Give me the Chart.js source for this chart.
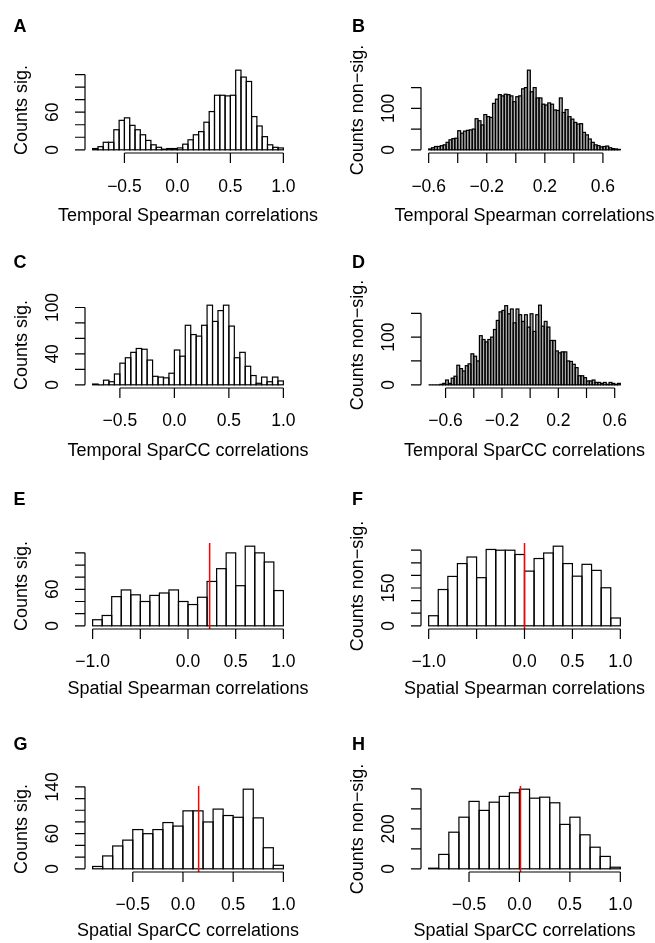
<!DOCTYPE html>
<html>
<head>
<meta charset="utf-8">
<script src="https://cdn.jsdelivr.net/npm/chart.js@4.4.0/dist/chart.umd.min.js"></script>
<style>
body { margin: 0; background: #fff; }
#fig { position: relative; width: 655px; height: 943px; font-family: "Liberation Sans", Arial, sans-serif; color: #000; }
#fig canvas { position: absolute; }
.txt { position: absolute; white-space: nowrap; line-height: 1; font-size: 18px; transform: translate(-50%, -50%); }
.ylab { transform: translate(-50%, -50%) rotate(-90deg); }
.letter { position: absolute; font-weight: bold; font-size: 18px; line-height: 1; }
</style>
</head>
<body>
<div id="fig"></div>
<script>
// panel texts
const panelLetters = ['A', 'B', 'C', 'D', 'E', 'F', 'G', 'H']
const xTitles = [
    'Temporal Spearman correlations', 'Temporal Spearman correlations',
    'Temporal SparCC correlations', 'Temporal SparCC correlations',
    'Spatial Spearman correlations', 'Spatial Spearman correlations',
    'Spatial SparCC correlations', 'Spatial SparCC correlations'
]
const yTitles = ['Counts sig.', 'Counts non\u2212sig.', 'Counts sig.', 'Counts non\u2212sig.',
    'Counts sig.', 'Counts non\u2212sig.', 'Counts sig.', 'Counts non\u2212sig.']

// histogram breaks: first break and bin width
const binStart = [-0.8, -0.6, -0.75, -0.72, -1.0, -1.0, -0.9, -0.9]
const binWidth = [0.05, 0.02, 0.05, 0.02, 0.1, 0.1, 0.1, 0.1]

// counts per bin
const countsA = [2, 5, 12, 12, 32, 47, 51, 39, 32, 24, 15, 8, 4, 1, 2, 2, 3, 9, 16, 24, 29, 44, 61, 87, 87, 86, 87, 127, 116, 109, 53, 38, 21, 8, 4, 3]
const countsB = [2, 5, 8, 8, 10, 12, 18, 24, 27, 28, 46, 40, 45, 47, 48, 50, 75, 70, 60, 85, 80, 78, 112, 122, 133, 130, 134, 133, 130, 116, 128, 130, 147, 150, 192, 140, 150, 125, 125, 110, 108, 113, 110, 96, 95, 125, 90, 97, 80, 74, 66, 62, 63, 42, 36, 26, 18, 12, 10, 7, 8, 9, 5, 3, 2, 1]
const countsC = [1, 0, 6, 4, 14, 28, 35, 42, 47, 46, 32, 11, 10, 9, 15, 45, 37, 77, 65, 63, 77, 103, 82, 96, 103, 76, 35, 42, 24, 12, 2, 10, 4, 10, 5]
const countsD = [0, 0, 0, 0, 1, 3, 10, 3, 14, 18, 41, 34, 29, 40, 44, 65, 60, 50, 103, 95, 90, 95, 100, 116, 135, 153, 156, 166, 149, 159, 130, 159, 147, 133, 147, 121, 149, 112, 147, 167, 123, 133, 121, 93, 93, 71, 67, 69, 69, 50, 49, 43, 36, 19, 19, 15, 8, 8, 10, 5, 5, 3, 5, 1, 5, 3, 1, 3]
const countsE = [10, 17, 48, 59, 51, 40, 50, 54, 59, 40, 35, 47, 73, 94, 120, 66, 131, 120, 105, 58]
const countsF = [40, 144, 196, 247, 273, 191, 303, 300, 300, 283, 217, 267, 289, 316, 247, 197, 244, 220, 151, 31]
const countsG = [4, 22, 39, 49, 67, 60, 67, 79, 73, 99, 99, 80, 102, 91, 88, 136, 87, 36, 6]
const countsH = [3, 72, 183, 258, 337, 292, 333, 362, 380, 398, 353, 358, 330, 222, 258, 170, 108, 62, 8]
const allCounts = [countsA, countsB, countsC, countsD, countsE, countsF, countsG, countsH]

// axis ticks and the labels R kept
const yTicks = [
    [0, 20, 40, 60, 80, 100, 120], [0, 50, 100, 150],
    [0, 20, 40, 60, 80, 100], [0, 50, 100, 150],
    [0, 20, 40, 60, 80, 100, 120], [0, 50, 100, 150, 200, 250, 300],
    [0, 20, 40, 60, 80, 100, 120, 140], [0, 100, 200, 300, 400]
]
const yLabels = [[0, 60], [0, 100], [0, 40, 100], [0, 100], [0, 60], [0, 150], [0, 60, 140], [0, 200]]
const xTicks = [
    [-0.5, 0, 0.5, 1], [-0.6, -0.4, -0.2, 0, 0.2, 0.4, 0.6],
    [-0.5, 0, 0.5, 1], [-0.6, -0.4, -0.2, 0, 0.2, 0.4, 0.6],
    [-1, -0.5, 0, 0.5, 1], [-1, -0.5, 0, 0.5, 1],
    [-0.5, 0, 0.5, 1], [-0.5, 0, 0.5, 1]
]
const xLabels = [
    [-0.5, 0, 0.5, 1], [-0.6, -0.2, 0.2, 0.6],
    [-0.5, 0, 0.5, 1], [-0.6, -0.2, 0.2, 0.6],
    [-1, 0, 0.5, 1], [-1, 0, 0.5, 1],
    [-0.5, 0, 0.5, 1], [-0.5, 0, 0.5, 1]
]
// red vertical lines (E-H)
const redLine = [null, null, null, null, 0.227, 0.0, 0.156, 0.01]
// the narrow-bin panels look grey in the figure
const barFill = ['#ffffff', '#aaaaaa', '#ffffff', '#aaaaaa', '#ffffff', '#ffffff', '#ffffff', '#ffffff']

// page layout
const colLeft = [85, 421]
const colWidth = [206, 207]
const rowTop = [66.5, 302, 542.5, 786]
const plotH = 86.5
const tickLabelGap = [34, 33, 33, 33]
const titleGap = [62, 61, 59, 57]
const letterX = [13.5, 352]
const letterBase = [32, 268.5, 505, 750.5]

const fig = document.getElementById('fig')
const FONT = '17.5px "Liberation Sans", Arial, sans-serif'

function fmtX(v) {
    return v.toFixed(1).replace('-', '\u2212')
}

function addText(cls, text, left, top) {
    let d = document.createElement('div')
    d.className = cls
    d.textContent = text
    d.style.left = left + 'px'
    d.style.top = top + 'px'
    fig.appendChild(d)
}

function makeAxes(i, gap) {
    return {
        id: 'rAxes' + i,
        afterDatasetsDraw(chart) {
            const ctx = chart.ctx
            const area = chart.chartArea
            const xs = chart.scales.x
            const ys = chart.scales.y
            ctx.save()
            ctx.strokeStyle = '#000'
            ctx.lineWidth = 1.2

            // bar outlines, drawn on the edges like rect() in R
            chart.getDatasetMeta(0).data.forEach(bar => {
                const p = bar.getProps(['x', 'y', 'base', 'width'], true)
                ctx.strokeRect(p.x - p.width / 2, p.y, p.width, p.base - p.y)
            })

            // red line
            if (redLine[i] !== null) {
                const rx = xs.getPixelForValue(redLine[i])
                ctx.strokeStyle = '#ff0000'
                ctx.lineWidth = 1.5
                ctx.beginPath()
                ctx.moveTo(rx, area.top)
                ctx.lineTo(rx, area.bottom)
                ctx.stroke()
                ctx.strokeStyle = '#000'
                ctx.lineWidth = 1.2
            }

            ctx.fillStyle = '#000'
            ctx.font = FONT

            // x axis
            const xt = xTicks[i]
            const by = area.bottom
            ctx.beginPath()
            ctx.moveTo(xs.getPixelForValue(xt[0]), by)
            ctx.lineTo(xs.getPixelForValue(xt[xt.length - 1]), by)
            xt.forEach(v => {
                const px = xs.getPixelForValue(v)
                ctx.moveTo(px, by)
                ctx.lineTo(px, by + 10)
            })
            ctx.stroke()
            ctx.textAlign = 'center'
            ctx.textBaseline = 'middle'
            xLabels[i].forEach(v => {
                ctx.fillText(fmtX(v), xs.getPixelForValue(v), by + gap)
            })

            // y axis
            const yt = yTicks[i]
            const lx = area.left
            ctx.beginPath()
            ctx.moveTo(lx, ys.getPixelForValue(yt[0]))
            ctx.lineTo(lx, ys.getPixelForValue(yt[yt.length - 1]))
            yt.forEach(v => {
                const py = ys.getPixelForValue(v)
                ctx.moveTo(lx, py)
                ctx.lineTo(lx - 10, py)
            })
            ctx.stroke()
            yLabels[i].forEach(v => {
                ctx.save()
                ctx.translate(lx - 32, ys.getPixelForValue(v))
                ctx.rotate(-Math.PI / 2)
                ctx.fillText(String(v), 0, 0)
                ctx.restore()
            })
            ctx.restore()
        }
    }
}

function drawPanel(i) {
    const col = i % 2
    const row = Math.floor(i / 2)
    const counts = allCounts[i]
    const start = binStart[i]
    const bw = binWidth[i]
    const end = start + bw * counts.length
    const padX = 0.04 * (end - start)
    const maxCount = Math.max(...counts)

    const padL = 60, padT = 25, padR = 10, padB = 55
    const canvas = document.createElement('canvas')
    canvas.width = colWidth[col] + padL + padR
    canvas.height = plotH + padT + padB
    canvas.style.left = (colLeft[col] - padL) + 'px'
    canvas.style.top = (rowTop[row] - padT) + 'px'
    fig.appendChild(canvas)

    const points = counts.map((c, k) => ({ x: start + bw * (k + 0.5), y: c }))

    new Chart(canvas, {
        type: 'bar',
        data: {
            datasets: [{
                data: points,
                backgroundColor: barFill[i],
                borderWidth: 0,
                barPercentage: 1,
                categoryPercentage: 1
            }]
        },
        options: {
            responsive: false,
            animation: false,
            events: [],
            layout: { padding: { left: padL, top: padT, right: padR, bottom: padB } },
            plugins: { legend: { display: false }, tooltip: { enabled: false } },
            scales: {
                x: {
                    type: 'linear', display: false, offset: false,
                    min: start - padX, max: end + padX,
                    afterBuildTicks: s => { s.ticks = xTicks[i].map(v => ({ value: v })) }
                },
                y: {
                    display: false,
                    min: -0.04 * maxCount, max: 1.04 * maxCount,
                    afterBuildTicks: s => { s.ticks = yTicks[i].map(v => ({ value: v })) }
                }
            }
        },
        plugins: [makeAxes(i, tickLabelGap[row])]
    })

    // text around the panel
    const cx = colLeft[col] + colWidth[col] / 2
    addText('txt', xTitles[i], cx, rowTop[row] + plotH + titleGap[row])
    addText('txt ylab', yTitles[i], colLeft[col] - 64, rowTop[row] + plotH / 2)
    const l = document.createElement('div')
    l.className = 'letter'
    l.textContent = panelLetters[i]
    l.style.left = letterX[col] + 'px'
    l.style.top = (letterBase[row] - 15.2) + 'px'
    fig.appendChild(l)
}

for (let i = 0; i < 8; i++) {
    drawPanel(i)
}
</script>
</body>
</html>
